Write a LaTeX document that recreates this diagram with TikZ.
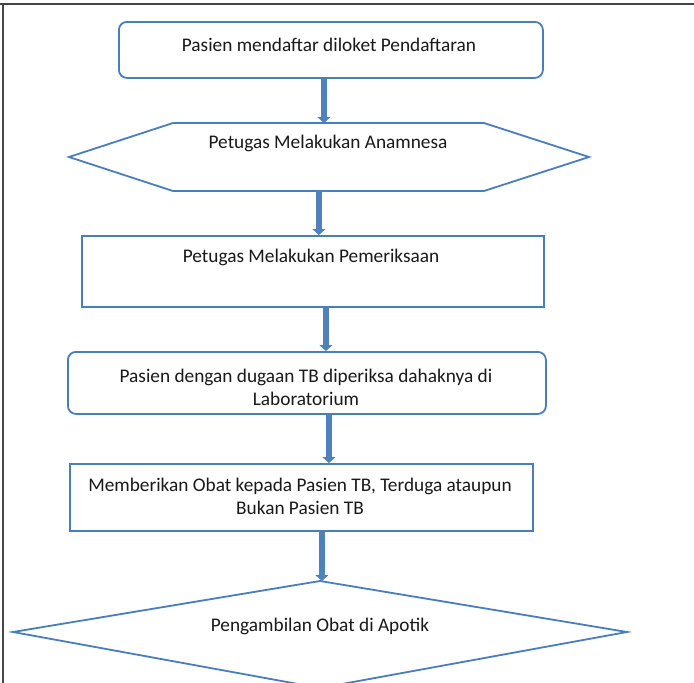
\documentclass[tikz,border=0pt]{standalone}
\usepackage{fontspec}
\setmainfont{Carlito}
\usetikzlibrary{arrows.meta,calc}
\definecolor{edgeblue}{RGB}{74,126,187}
\definecolor{arrowblue}{RGB}{79,129,189}
\definecolor{framegray}{RGB}{70,70,70}
\begin{document}
\begin{tikzpicture}[x=1pt,y=-1pt,
  box/.style={draw=edgeblue,line width=1.8pt,fill=white,inner sep=0pt,anchor=north west},
  roundbox/.style={box,rounded corners=8pt},
  shapeline/.style={draw=edgeblue,line width=1.8pt,line join=miter},
  lbl/.style={inner sep=0pt,align=center,text=black!90,font=\fontsize{19.3}{23}\selectfont},
  flow/.style={draw=arrowblue,line width=6pt,-{Triangle[width=13pt,length=6pt,line width=0.4pt]}},
  frameline/.style={draw=framegray,line width=1.6pt}]
\useasboundingbox (0,0) rectangle (694,683);
% frame
\draw[frameline] (0,4) -- (694,4);
\draw[frameline] (3,4) -- (3,683);
% shapes
\node[roundbox,minimum width=424pt,minimum height=56pt] (b1) at (118,21) {};
\coordinate (h1) at (69,157);
\coordinate (h2) at (173,123);
\coordinate (h3) at (484,123);
\coordinate (h4) at (589,157);
\coordinate (h5) at (484,191);
\coordinate (h6) at (173,191);
\draw[shapeline,fill=white] (h1) -- (h2) -- (h3) -- (h4) -- (h5) -- (h6) -- cycle;
\node[box,minimum width=462pt,minimum height=71pt] (b3) at (81,235) {};
\node[roundbox,minimum width=478pt,minimum height=62pt] (b4) at (67,351) {};
\node[box,minimum width=463pt,minimum height=67pt] (b5) at (69,463) {};
\coordinate (d1) at (320,581);
\coordinate (d2) at (627,632);
\coordinate (d3) at (320,688);
\coordinate (d4) at (13,632);
\draw[shapeline,fill=white] (d1) -- (d2) -- (d3) -- (d4) -- cycle;
% labels
\node[lbl] (t1) at (329,45) {Pasien mendaftar diloket Pendaftaran};
\node[lbl] (t2) at (328,143) {Petugas Melakukan Anamnesa};
\node[lbl] (t3) at (311,257) {Petugas Melakukan Pemeriksaan};
\node[lbl] (t4) at (306,387) {Pasien dengan dugaan TB diperiksa dahaknya di\\Laboratorium};
\node[lbl] (t5) at (300,496) {Memberikan Obat kepada Pasien TB, Terduga ataupun\\Bukan Pasien TB};
\node[lbl] (t6) at (320,626) {Pengambilan Obat di Apotik};
% arrows
\draw[flow] ([xshift=-7pt]b1.south) -- ([xshift=-7pt]b1.south |- h2);
\draw[flow] ([xshift=6pt]b3.north |- h6) -- ([xshift=6pt]b3.north);
\draw[flow] ([xshift=13pt]b3.south) -- ([xshift=19pt]b4.north);
\draw[flow] ([xshift=22pt]b4.south) -- ([xshift=27.5pt]b5.north);
\draw[flow] ([xshift=20.5pt]b5.south) -- ([xshift=20.5pt]b5.south |- d1);
\end{tikzpicture}
\end{document}
